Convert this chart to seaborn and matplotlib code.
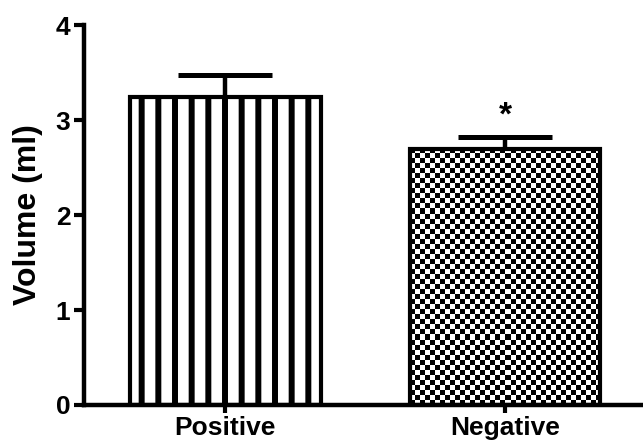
import matplotlib
matplotlib.use("Agg")
import matplotlib.pyplot as plt
import numpy as np
import seaborn as sns

groups = ["Positive", "Negative"]
means = [3.24, 2.70]
sem = [0.23, 0.12]
marks = ["", "*"]

sns.set_style("ticks", {"axes.edgecolor": "black", "text.color": "black",
                        "axes.labelcolor": "black", "xtick.color": "black",
                        "ytick.color": "black"})
plt.rcParams["font.family"] = ["Liberation Sans", "DejaVu Sans"]
plt.rcParams["font.weight"] = "bold"
plt.rcParams["hatch.linewidth"] = 4.3
plt.rcParams["hatch.color"] = "black"

fig = plt.figure(figsize=(6.43, 4.48), dpi=100)
ax = fig.add_axes([0.131, 0.096, 0.869, 0.848])

sns.barplot(x=groups, y=means, color="white", width=0.68, edgecolor="black",
            linewidth=3, ax=ax, errorbar=None, zorder=2)

ax.set_xlim(-0.504, 1.492)
ax.set_ylim(0, 4)

# upper error bars only
ax.errorbar(range(len(groups)), means, yerr=[[0] * len(sem), sem], fmt="none",
            ecolor="black", elinewidth=3.2, capsize=34, capthick=3.6, zorder=1)

bars = ax.patches
bars[0].set_hatch("|")

# checkerboard fill for second bar
p = bars[1]
p.set_facecolor("none")
x0, y0, w, h = p.get_x(), p.get_y(), p.get_width(), p.get_height()
(px0, py0), (px1, py1) = ax.transData.transform([(x0, y0), (x0 + w, y0 + h)])
nx = int(round((px1 - px0) / 5.0))
ny = int(round((py1 - py0) / 5.0))
board = (np.add.outer(np.arange(ny), np.arange(nx)) % 2).astype(float)
im = ax.imshow(board, cmap="gray", extent=[x0, x0 + w, y0, y0 + h], aspect="auto",
               interpolation="nearest", zorder=1.5, origin="lower")
im.set_clip_path(p)
ax.set_xlim(-0.504, 1.492)
ax.set_ylim(0, 4)

for i, m in enumerate(marks):
    if m:
        ax.text(i, means[i] + sem[i] + 0.06, m, ha="center", va="bottom",
                fontsize=24, fontweight="bold", color="black")

ax.set_yticks([0, 1, 2, 3, 4])
ax.set_ylabel("Volume (ml)", fontsize=23, fontweight="bold", labelpad=9,
              color="black")
sns.despine(ax=ax)
for s in ["left", "bottom"]:
    ax.spines[s].set_linewidth(3.2)
    ax.spines[s].set_color("black")
ax.tick_params(axis="y", width=3, length=7, labelsize=19, pad=3, colors="black")
ax.tick_params(axis="x", width=3, length=6, labelsize=19, pad=2, colors="black")
for lab in ax.get_xticklabels() + ax.get_yticklabels():
    lab.set_fontweight("bold")

fig.savefig("out.png", dpi=100)
